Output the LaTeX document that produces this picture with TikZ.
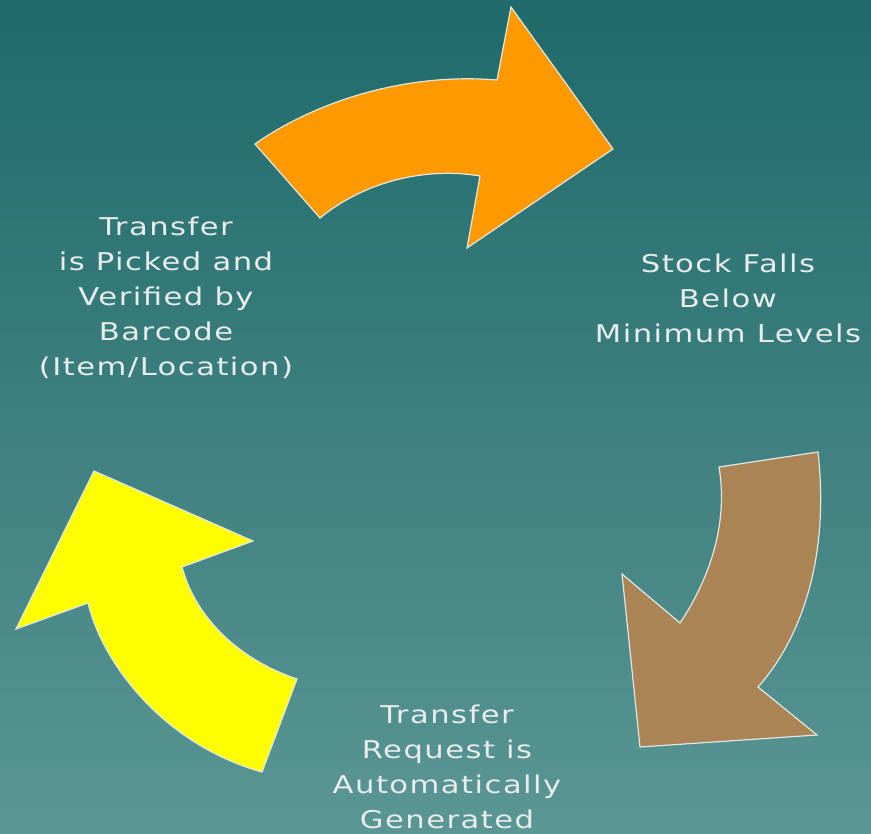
\documentclass[tikz,border=0pt]{standalone}
\usepackage{fontspec}
\setmainfont{DejaVu Sans}
\newfontfamily\lblfont[LetterSpace=6,FakeStretch=1.25]{DejaVu Sans}
\definecolor{bgtop}{RGB}{31,106,106}
\definecolor{bgbot}{RGB}{90,150,148}
\definecolor{arrorange}{RGB}{255,153,0}
\definecolor{arrbrown}{RGB}{170,132,85}
\definecolor{arryellow}{RGB}{255,255,0}
\definecolor{txtcol}{RGB}{232,236,234}
\definecolor{edgecol}{RGB}{225,230,228}
\tikzset{
  arrshape/.style={draw=edgecol, line width=1.2pt, line join=miter},
  lbl/.style={text=txtcol, align=center, font=\lblfont\fontsize{24.5}{35}\selectfont, inner sep=0pt}
}
\begin{document}
\begin{tikzpicture}[x=1pt,y=-1pt]
\shade[top color=bgtop, bottom color=bgbot] (0,0) rectangle (871,834);
\useasboundingbox (0,0) rectangle (871,834);
% orange arrow
\draw[arrshape, fill=arrorange] (255,144) .. controls (310,105) and (400,72) .. (497,80)
  -- (511,7) -- (613,149) -- (467,248) -- (480,176)
  .. controls (420,166) and (360,185) .. (320,218) -- cycle;
% brown arrow
\draw[arrshape, fill=arrbrown] (818,452) -- (719,467)
  .. controls (728,520) and (712,575) .. (680,623)
  -- (622,574) -- (640,747) -- (817,735) -- (758,687)
  .. controls (800,640) and (830,560) .. cycle;
% yellow arrow
\draw[arrshape, fill=arryellow] (262,772) -- (297,679)
  .. controls (235,658) and (195,615) .. (182,567)
  -- (253,541) -- (94,471) -- (16,629) -- (88,603)
  .. controls (103,665) and (165,745) .. cycle;
% labels
\node[lbl] (picked) at (166,298) {Transfer\\is Picked and\\Verified by\\Barcode\\(Item/Location)};
\node[lbl] (stock) at (728,298) {Stock Falls\\Below\\Minimum Levels};
\node[lbl] (request) at (447,767) {Transfer\\Request is\\Automatically\\Generated};
\end{tikzpicture}
\end{document}
